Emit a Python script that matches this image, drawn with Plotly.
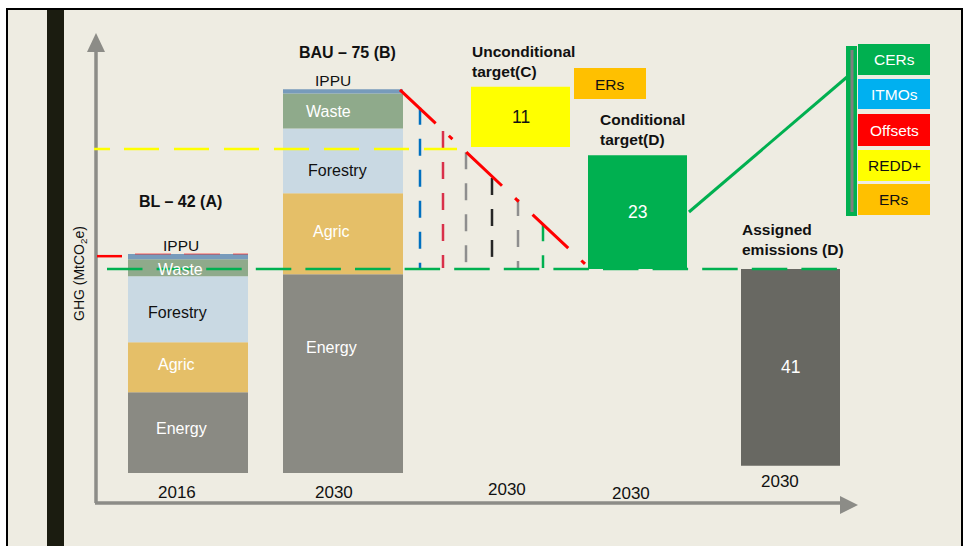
import plotly.graph_objects as go
import numpy as np

# ---------------- data (MtCO2e) ----------------
sectors = ["Energy", "Agric", "Forestry", "Waste", "IPPU"]
bl_2016 = [15.7, 9.7, 12.8, 3.3, 1.0]       # Baseline 2016 (BL – 42)
bau_2030 = [38.6, 15.7, 12.6, 6.8, 0.8]     # Business as usual 2030 (BAU – 75)
scenario_titles = ["BL – 42 (A)", "BAU – 75 (B)"]
year_labels = ["2016", "2030", "2030", "2030", "2030"]

target_names = ["Unconditional<br>target(C)", "Conditional<br>target(D)", "Assigned<br>emissions (D)"]
target_labels = ["11", "23", "41"]
target_bottom = [63.3, 39.6, 1.4]
target_top = [75.0, 61.7, 39.6]

bl_level = 42.1            # BL reference
uncond_level = 62.9        # unconditional target level
cond_level = 39.6          # conditional target level
reduction_start = 74.4     # red reduction path start (BAU top)
reduction_end = 40.6
step_tops = [70.9, 66.4, 62.3, 57.3, 53.2, 48.3]
step_bottom = 39.8

mechanisms = ["CERs", "ITMOs", "Offsets", "REDD+", "ERs"]
extra_er = "ERs"

# ---------------- styles / layout ----------------
K = 5.15                   # px per MtCO2e
ZERO_PX = 473
W, H = 964, 546
BG = "#EEECE2"
FONT = "Liberation Sans"
sector_colors = ["#8A8A83", "#E5BF68", "#C9D9E3", "#8FAA8B", "#779BBB"]
bar_x = [188, 343]
bar_w = 120
target_x = [520.5, 637.5, 790.5]
target_w = 99
target_colors = ["#FFFF00", "#00B050", "#686862"]
target_text_colors = ["#111111", "white", "white"]
step_x = [420, 443, 466, 492, 518, 543]
step_colors = ["#0070C0", "#D9304A", "#8E8E8E", "#262626", "#8E8E8E", "#00B050"]
mech_colors = ["#00B050", "#00B0F0", "#FF0000", "#FFFF00", "#FFC000"]
mech_text_colors = ["white", "white", "white", "#111111", "#111111"]

fig = go.Figure()

# stacked sector bars
for cx, vals in zip(bar_x, [bl_2016, bau_2030]):
    vals = np.array(vals)
    bases = np.concatenate([[0], np.cumsum(vals)[:-1]])
    for v, b, c in zip(vals, bases, sector_colors):
        fig.add_trace(go.Bar(x=[cx], y=[v], base=[b], width=[bar_w],
                             marker=dict(color=c, line=dict(width=0)),
                             hoverinfo="skip", showlegend=False))

# target bars
for cx, b, t, c in zip(target_x, target_bottom, target_top, target_colors):
    fig.add_trace(go.Bar(x=[cx], y=[t - b], base=[b], width=[target_w],
                         marker=dict(color=c, line=dict(width=0)),
                         hoverinfo="skip", showlegend=False))

def line(x, y, color, width, dash="solid", opacity=1.0):
    fig.add_trace(go.Scatter(x=x, y=y, mode="lines", opacity=opacity,
                             line=dict(color=color, width=width, dash=dash),
                             hoverinfo="skip", showlegend=False))

# vertical step lines
for sx, st, sc in zip(step_x, step_tops, step_colors):
    line([sx, sx], [st, step_bottom], sc, 2.5, "17px,14px")

# reference levels
yellow_dash = "16px,14px," + ",".join(["35px,15px"] * 8)
line([94, 457], [uncond_level, uncond_level], "#FFFF00", 2.5, yellow_dash)
line([107, 837], [cond_level, cond_level], "#00B050", 2.5, "35.5px,14.1px")
line([97, 122], [bl_level, bl_level], "#FF0000", 2.5)
line([135, 248], [bl_level + 0.4, bl_level + 0.4], "#FF0000", 2, "36px,13px", 0.3)

# red reduction path
line([400, 585], [reduction_start, reduction_end], "#FF0000", 3, "49px,18px,5px,19px")

# invisible trace to anchor pixel axis
fig.add_trace(go.Scatter(x=[0], y=[0], yaxis="y2", mode="markers",
                         marker=dict(opacity=0), hoverinfo="skip", showlegend=False))

shapes = []
def rect(x0, y0, x1, y1, fill, layer="above", lc=None, lw=0):
    shapes.append(dict(type="rect", xref="x", yref="y2", x0=x0, y0=y0, x1=x1, y1=y1,
                       fillcolor=fill, line=dict(color=lc or fill, width=lw), layer=layer))

# background frame and dark band
rect(7, 9, 962, 600, BG, "below", "#000000", 2)
rect(47, 10, 64, 600, "#1B1C10", "below")

# axes
AX = "#8C8C87"
shapes.append(dict(type="line", xref="x", yref="y2", x0=96, y0=503, x1=96, y1=50,
                   line=dict(color=AX, width=3.5), layer="below"))
shapes.append(dict(type="line", xref="x", yref="y2", x0=95, y0=503, x1=842, y1=503,
                   line=dict(color=AX, width=3.5), layer="below"))
shapes.append(dict(type="path", xref="x", yref="y2", path="M 96 33 L 87 52 L 105 52 Z",
                   fillcolor=AX, line=dict(width=0), layer="below"))
shapes.append(dict(type="path", xref="x", yref="y2", path="M 858 505 L 840 496 L 840 514 Z",
                   fillcolor=AX, line=dict(width=0), layer="below"))

# ERs box near unconditional target
rect(574, 68, 646, 99, "#FFC000")

# connector and mechanism stack
shapes.append(dict(type="line", xref="x", yref="y2", x0=689, y0=212, x1=847, y1=77,
                   line=dict(color="#00B050", width=3)))
rect(846, 46, 857, 216, "#00B050")
rect(850.5, 50, 853.5, 212, "#7F7F7F")
mech_y = [(44, 75), (79, 109), (114, 146), (150, 181), (184, 215)]
for (y0, y1), c in zip(mech_y, mech_colors):
    rect(858, y0, 930, y1, c)

annotations = []
def text(x, y, s, size=16, color="#111111", bold=False, align="center", xanchor="center",
         yref="y2", angle=0):
    if bold:
        s = "<b>" + s + "</b>"
    annotations.append(dict(x=x, y=y, xref="x", yref=yref, text=s, showarrow=False,
                            font=dict(family=FONT, size=size, color=color),
                            align=align, xanchor=xanchor, yanchor="middle", textangle=angle))

# sector labels (pixel positions)
seg_label_pos = {
    0: [(181, 428), (176, 364), (177, 312), (180, 269)],
    1: [(331, 347), (331, 231), (337, 170), (328, 111)],
}
seg_label_colors = ["white", "white", "#111111", "white"]
for i in range(2):
    for j in range(4):
        px, py = seg_label_pos[i][j]
        text(px, py, sectors[j], 16, seg_label_colors[j])
text(181, 245, sectors[4], 15.5)
text(333, 80, sectors[4], 15.5)

# scenario titles
text(180, 201, scenario_titles[0], 16, bold=True)
text(347, 52, scenario_titles[1], 16, bold=True)

# target titles
text(470, 61, target_names[0], 15.5, bold=True, align="left", xanchor="left")
text(598, 129, target_names[1], 15.5, bold=True, align="left", xanchor="left")
text(740, 239, target_names[2], 15.5, bold=True, align="left", xanchor="left")

# target values
for cx, lab, b, t, c in zip(target_x, target_labels, target_bottom, target_top, target_text_colors):
    text(cx, (b + t) / 2, lab, 17.5, c, yref="y")

# years
for (px, py), s in zip([(177, 492), (334, 492), (507, 489), (631, 493), (780, 481)], year_labels):
    text(px, py, s, 17)

# ERs and mechanism texts
text(610, 84, extra_er, 15.5)
for (y0, y1), s, c in zip(mech_y, mechanisms, mech_text_colors):
    text(894, (y0 + y1) / 2, s, 15.5, c)

# y axis title
text(80, 274, "GHG (MtCO<sub>2</sub>e)", 14, angle=-90)

fig.update_layout(
    width=W, height=H, margin=dict(l=0, r=0, t=0, b=0),
    paper_bgcolor="white", plot_bgcolor="white",
    barmode="overlay", showlegend=False,
    xaxis=dict(range=[0, W], visible=False, fixedrange=True),
    yaxis=dict(range=[(ZERO_PX - H) / K, ZERO_PX / K], visible=False, fixedrange=True),
    yaxis2=dict(range=[H, 0], overlaying="y", visible=False, fixedrange=True),
    shapes=shapes, annotations=annotations,
)

fig.write_html("out.html")
